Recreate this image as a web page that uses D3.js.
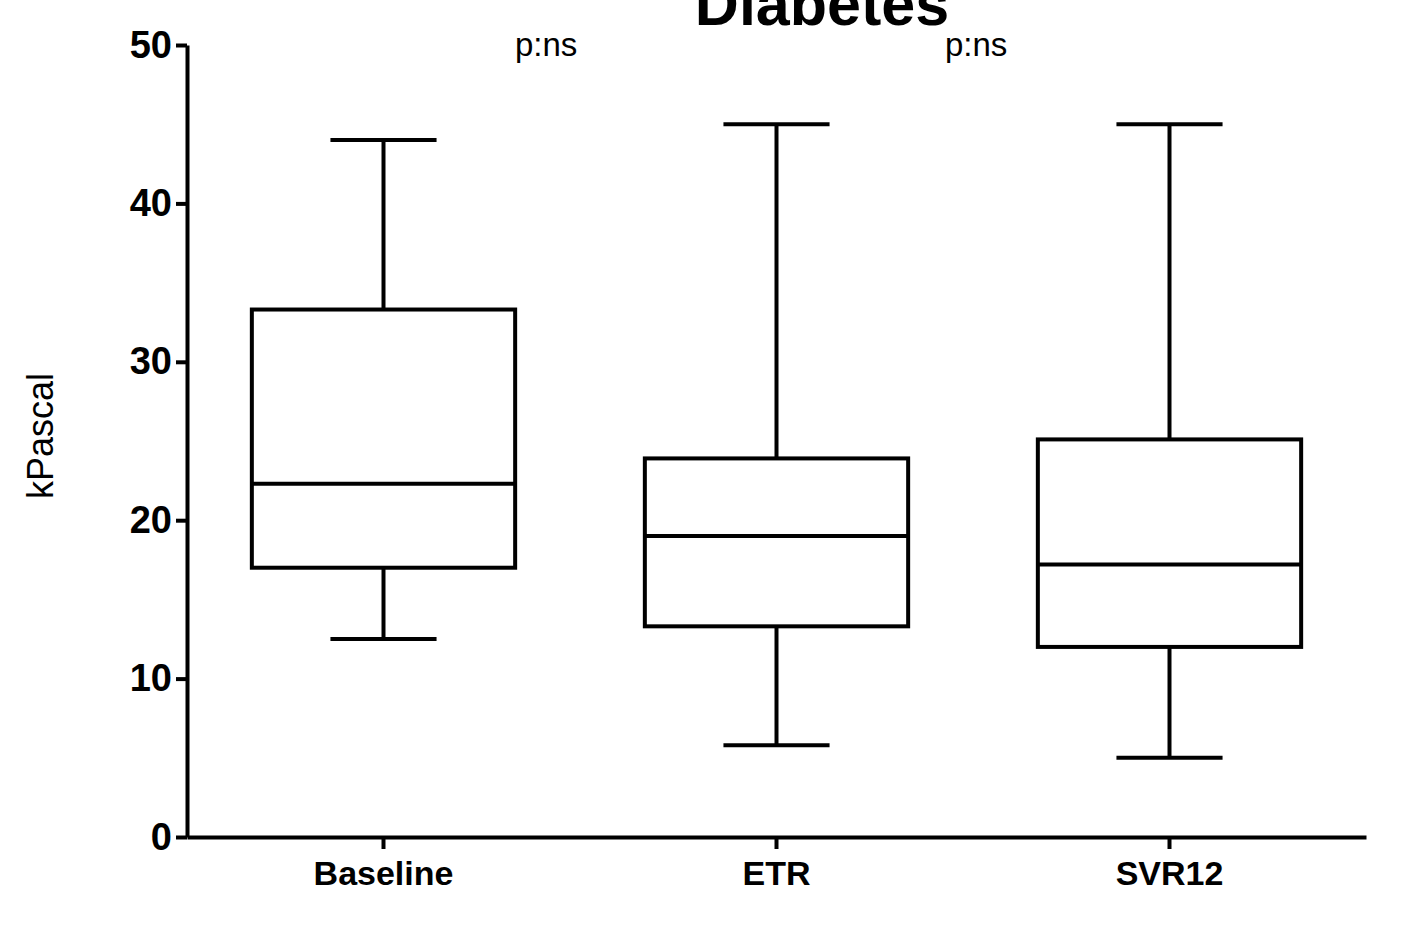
<!DOCTYPE html>
<html>
<head>
<meta charset="utf-8">
<script src="https://cdn.jsdelivr.net/npm/d3@7"></script>
<style>
  body { margin: 0; background: #fff; }
  text { font-family: Arial, "Liberation Sans", sans-serif; fill: #000; }
</style>
</head>
<body>
<script>
// datos
var grupos = ["Baseline", "ETR", "SVR12"];
var minimos = [12.5, 5.8, 5.0];
var q1 = [17.0, 13.3, 12.0];
var medianas = [22.3, 19.0, 17.2];
var q3 = [33.3, 23.9, 25.1];
var maximos = [44.0, 45.0, 45.0];
var ticksY = [0, 10, 20, 30, 40, 50];
var anotaciones = ["p:ns", "p:ns"];

var vis = {
  width: 1422,
  height: 942,
  left: 187,
  right: 1366,
  top: 45,
  bottom: 837,
  anchoCaja: 0.67,
  anchoBigote: 0.27,
  trazo: 4
};

var svg = d3.select("body").append("svg")
  .attr("width", vis.width)
  .attr("height", vis.height);

var x = d3.scaleBand()
  .domain(grupos)
  .range([vis.left, vis.right])
  .padding(0);

var y = d3.scaleLinear()
  .domain([0, 50])
  .range([vis.bottom, vis.top]);

var datos = grupos.map(function(g, i) {
  return { grupo: g, min: minimos[i], q1: q1[i], med: medianas[i], q3: q3[i], max: maximos[i] };
});

var centro = function(d) { return x(d.grupo) + x.bandwidth() / 2; };
var wCaja = x.step() * vis.anchoCaja;
var wBig = x.step() * vis.anchoBigote;

var cajas = svg.selectAll("g.caja")
  .data(datos)
  .enter()
  .append("g")
  .attr("class", "caja")
  .attr("stroke", "#000")
  .attr("stroke-width", vis.trazo)
  .attr("fill", "none");

// bigotes
cajas.append("line")
  .attr("x1", centro).attr("x2", centro)
  .attr("y1", function(d) { return y(d.q3); })
  .attr("y2", function(d) { return y(d.max); });
cajas.append("line")
  .attr("x1", centro).attr("x2", centro)
  .attr("y1", function(d) { return y(d.q1); })
  .attr("y2", function(d) { return y(d.min); });
cajas.append("line")
  .attr("x1", function(d) { return centro(d) - wBig / 2; })
  .attr("x2", function(d) { return centro(d) + wBig / 2; })
  .attr("y1", function(d) { return y(d.max); })
  .attr("y2", function(d) { return y(d.max); });
cajas.append("line")
  .attr("x1", function(d) { return centro(d) - wBig / 2; })
  .attr("x2", function(d) { return centro(d) + wBig / 2; })
  .attr("y1", function(d) { return y(d.min); })
  .attr("y2", function(d) { return y(d.min); });

// caja
cajas.append("rect")
  .attr("x", function(d) { return centro(d) - wCaja / 2; })
  .attr("y", function(d) { return y(d.q3); })
  .attr("width", wCaja)
  .attr("height", function(d) { return y(d.q1) - y(d.q3); })
  .attr("fill", "#fff");

// mediana
cajas.append("line")
  .attr("x1", function(d) { return centro(d) - wCaja / 2; })
  .attr("x2", function(d) { return centro(d) + wCaja / 2; })
  .attr("y1", function(d) { return y(d.med); })
  .attr("y2", function(d) { return y(d.med); });

// ejes
var ejeY = svg.append("g")
  .attr("transform", "translate(" + vis.left + ",0)")
  .call(d3.axisLeft(y).tickValues(ticksY).tickSize(11).tickSizeOuter(0).tickPadding(4).tickFormat(d3.format("d")));

var ejeX = svg.append("g")
  .attr("transform", "translate(0," + vis.bottom + ")")
  .call(d3.axisBottom(x).tickSize(12).tickSizeOuter(0).tickPadding(12));

[ejeY, ejeX].forEach(function(eje) {
  eje.select(".domain").attr("stroke", "#000").attr("stroke-width", vis.trazo);
  eje.selectAll(".tick line").attr("stroke", "#000").attr("stroke-width", vis.trazo);
  eje.selectAll("text")
    .attr("fill", "#000")
    .style("font-family", "Arial, 'Liberation Sans', sans-serif")
    .style("font-weight", "bold");
});
ejeY.selectAll("text").style("font-size", "38px");
ejeX.selectAll("text").style("font-size", "34px");

// titulo (cortado arriba como en el original)
svg.append("text")
  .attr("x", 822)
  .attr("y", 25)
  .attr("text-anchor", "middle")
  .style("font-size", "61px")
  .style("font-weight", "bold")
  .text("Diabetes");

// etiqueta eje Y
svg.append("text")
  .attr("transform", "translate(53,436) rotate(-90)")
  .attr("text-anchor", "middle")
  .style("font-size", "36px")
  .text("kPascal");

// anotaciones p
var posAnot = [515, 945];
svg.selectAll("text.anot")
  .data(anotaciones)
  .enter()
  .append("text")
  .attr("class", "anot")
  .attr("x", function(d, i) { return posAnot[i]; })
  .attr("y", 56)
  .style("font-size", "33px")
  .text(function(d) { return d; });
</script>
</body>
</html>
